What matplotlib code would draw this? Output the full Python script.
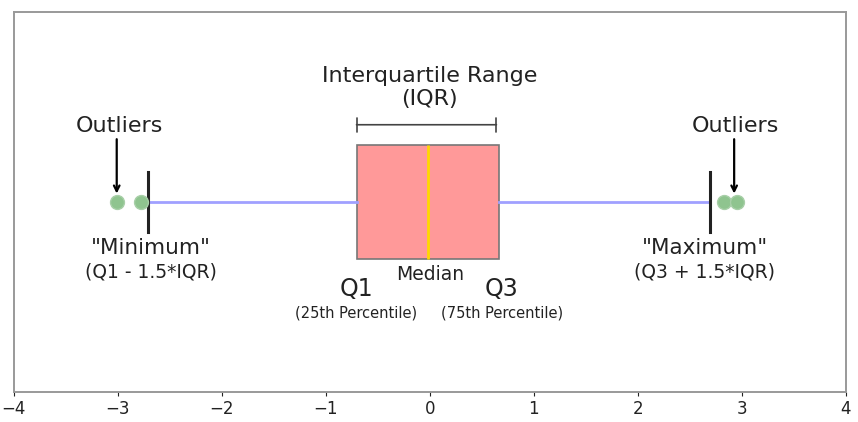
import matplotlib.pyplot as plt

# box statistics
q1 = -0.70
median = -0.02
q3 = 0.66
whisker_low = -2.71
whisker_high = 2.69
fliers = [-3.01, -2.78, 2.83, 2.95]
x_ticks = [-4, -3, -2, -1, 0, 1, 2, 3, 4]


def run():
    fig, ax = plt.subplots(figsize=(8.58, 4.22), dpi=100)
    fig.subplots_adjust(left=0.016, right=0.986, top=0.972, bottom=0.071)

    stats = [dict(q1=q1, med=median, q3=q3, whislo=whisker_low,
                  whishi=whisker_high, fliers=fliers)]
    ax.bxp(stats, positions=[0.5], widths=0.3, vert=False, patch_artist=True,
           boxprops=dict(facecolor="#ff9999", edgecolor="#777777", linewidth=1.2),
           medianprops=dict(color="#ffd700", linewidth=2),
           whiskerprops=dict(color="#a0a0ff", linewidth=2),
           capprops=dict(color="#222222", linewidth=2.2),
           capwidths=0.16,
           flierprops=dict(marker="o", markersize=10, markerfacecolor="#8fc48f",
                           markeredgecolor="#a8cfa8", markeredgewidth=1))

    ax.set_xlim(-4, 4)
    ax.set_ylim(0, 1)
    ax.set_xticks(x_ticks)
    ax.set_xticklabels([str(t).replace("-", "\u2212") for t in x_ticks])
    ax.set_yticks([])
    ax.tick_params(axis="x", labelsize=12, colors="#222222", length=3, pad=3)
    for s in ax.spines.values():
        s.set_color("#999999")
        s.set_linewidth(1.4)

    # IQR bracket
    ax.annotate("", xy=(q1 - 0.005, 0.703), xytext=(q3 - 0.02, 0.703),
                arrowprops=dict(arrowstyle="|-|", color="#444444", lw=1.2,
                                shrinkA=0, shrinkB=0, mutation_scale=5))
    ax.text(0, 0.80, "Interquartile Range\n(IQR)", ha="center", va="center",
            fontsize=16, color="#222222", linespacing=1.2)

    # outliers
    ax.text(-2.98, 0.70, "Outliers", ha="center", va="center", fontsize=16,
            color="#222222")
    ax.text(2.94, 0.70, "Outliers", ha="center", va="center", fontsize=16,
            color="#222222")
    for xa in (fliers[0], 2.925):
        ax.annotate("", xy=(xa, 0.522), xytext=(xa, 0.665),
                    arrowprops=dict(arrowstyle="->", color="black", lw=1.6,
                                    shrinkA=0, shrinkB=0))

    # min / max labels
    ax.text(-2.68, 0.38, "\"Minimum\"", ha="center", va="center", fontsize=15.5,
            color="#222222")
    ax.text(-2.68, 0.317, "(Q1 - 1.5*IQR)", ha="center", va="center",
            fontsize=13.5, color="#222222")
    ax.text(2.64, 0.38, "\"Maximum\"", ha="center", va="center", fontsize=15.5,
            color="#222222")
    ax.text(2.64, 0.317, "(Q3 + 1.5*IQR)", ha="center", va="center",
            fontsize=13.5, color="#222222")

    # quartile labels
    ax.text(q1 - 0.01, 0.27, "Q1", ha="center", va="center", fontsize=17,
            color="#222222")
    ax.text(q3 + 0.03, 0.27, "Q3", ha="center", va="center", fontsize=17,
            color="#222222")
    ax.text(0, 0.31, "Median", ha="center", va="center", fontsize=13.5,
            color="#222222")
    ax.text(q1 - 0.01, 0.208, "(25th Percentile)", ha="center", va="center",
            fontsize=10.5, color="#222222")
    ax.text(q3 + 0.03, 0.208, "(75th Percentile)", ha="center", va="center",
            fontsize=10.5, color="#222222")

    fig.savefig("out.png", dpi=100)


if __name__ == "__main__":
    run()
